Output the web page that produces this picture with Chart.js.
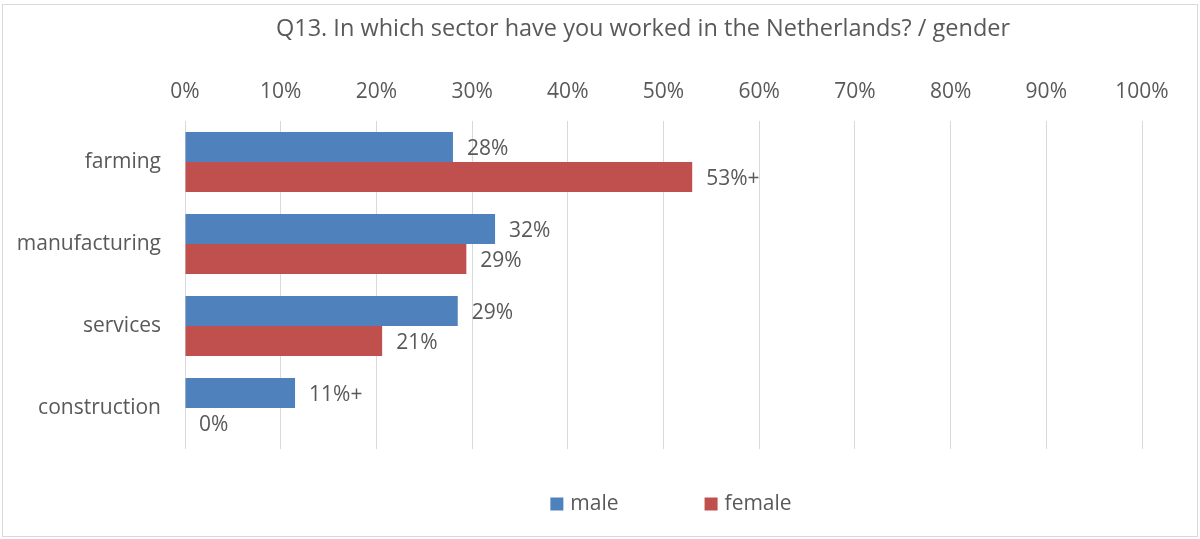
<!DOCTYPE html>
<html>
<head>
<meta charset="utf-8">
<script src="https://cdn.jsdelivr.net/npm/chart.js@4/dist/chart.umd.min.js"></script>
<style>
  html, body { margin: 0; padding: 0; background: #fff; }
  #wrap { width: 1200px; height: 539px; position: relative; }
</style>
</head>
<body>
<div id="wrap"><canvas id="chart"></canvas></div>
<script>
const categories = ['farming', 'manufacturing', 'services', 'construction'];
const maleValues = [28, 32.4, 28.5, 11.5];
const femaleValues = [53, 29.4, 20.6, 0];
const maleLabels = ['28%', '32%', '29%', '11%+'];
const femaleLabels = ['53%+', '29%', '21%', '0%'];
const tickValues = [0, 10, 20, 30, 40, 50, 60, 70, 80, 90, 100];

const FONT = "'Open Sans', sans-serif";
const GREY = '#595959';

// border round the whole chart, and title centred a bit right like the original
const frame = {
    id: 'frame',
    afterLayout(chart) {
        if (chart.titleBlock) chart.titleBlock.left = 144;
    },
    beforeDraw(chart) {
        const c = chart.ctx;
        c.save();
        c.fillStyle = '#fff';
        c.fillRect(0, 0, chart.width, chart.height);
        c.strokeStyle = '#d9d9d9';
        c.lineWidth = 1;
        c.strokeRect(2.5, 4.5, 1195, 532);
        c.restore();
    }
};

// value labels at the end of each bar
const barLabels = {
    id: 'barLabels',
    afterDatasetsDraw(chart) {
        const c = chart.ctx;
        const texts = [maleLabels, femaleLabels];
        c.save();
        c.font = '21px ' + FONT;
        c.fillStyle = GREY;
        c.textBaseline = 'middle';
        c.textAlign = 'left';
        chart.data.datasets.forEach((ds, i) => {
            chart.getDatasetMeta(i).data.forEach((bar, j) => {
                c.fillText(texts[i][j], bar.x + 14, bar.y + 2);
            });
        });
        c.restore();
    }
};

// legend under the plot, items spread like the original
const legendBelow = {
    id: 'legendBelow',
    afterDraw(chart) {
        const c = chart.ctx;
        const box = 13, gap = 7, spacing = 86;
        c.save();
        c.font = '21px ' + FONT;
        c.textBaseline = 'middle';
        const items = chart.data.datasets.map(d => ({ text: d.label, color: d.backgroundColor, w: c.measureText(d.label).width }));
        let total = 0;
        items.forEach((it, i) => { total += box + gap + it.w + (i ? spacing : 0); });
        let x = 671 - total / 2;
        const y = 504;
        items.forEach(it => {
            c.fillStyle = it.color;
            c.fillRect(x, y - box / 2, box, box);
            c.fillStyle = GREY;
            c.fillText(it.text, x + box + gap, y);
            x += box + gap + it.w + spacing;
        });
        c.restore();
    }
};

new Chart(document.getElementById('chart'), {
    type: 'bar',
    data: {
        labels: categories,
        datasets: [
            { label: 'male', data: maleValues, backgroundColor: '#4f81bd', categoryPercentage: 0.73, barPercentage: 1 },
            { label: 'female', data: femaleValues, backgroundColor: '#c0504d', categoryPercentage: 0.73, barPercentage: 1 }
        ]
    },
    options: {
        indexAxis: 'y',
        responsive: true,
        maintainAspectRatio: false,
        animation: false,
        layout: { padding: { top: 0, left: 0, right: 58, bottom: 90 } },
        plugins: {
            legend: { display: false },
            tooltip: { enabled: false },
            title: {
                display: true,
                text: 'Q13. In which sector have you worked in the Netherlands? / gender',
                color: GREY,
                font: { family: FONT, size: 23.5, weight: 'normal' },
                padding: { top: 15, bottom: 8 }
            }
        },
        scales: {
            x: {
                position: 'top',
                min: 0,
                max: 100,
                afterBuildTicks(scale) { scale.ticks = tickValues.map(v => ({ value: v })); },
                afterFit(scale) { scale.height = 121 - (15 + 23.5 * 1.2 + 8); },
                ticks: {
                    color: GREY,
                    padding: 16,
                    font: { family: FONT, size: 21 },
                    callback: v => v + '%'
                },
                grid: { color: '#d9d9d9', drawTicks: false },
                border: { display: false }
            },
            y: {
                afterFit(scale) { scale.width = 185; },
                ticks: {
                    color: GREY,
                    padding: 16,
                    font: { family: FONT, size: 21 }
                },
                grid: { display: false },
                border: { display: false }
            }
        }
    },
    plugins: [frame, barLabels, legendBelow]
});
</script>
</body>
</html>
